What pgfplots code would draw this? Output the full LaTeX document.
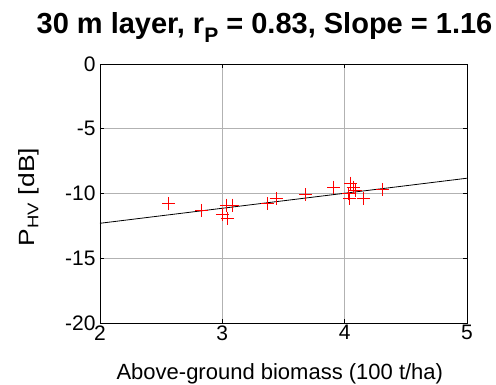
\documentclass[border=0pt]{standalone}
\usepackage{pgfplots}
\pgfplotsset{compat=1.18}
\usepackage{fontspec}
\setmainfont{Liberation Sans}

% HV backscatter of the 30 m layer against above-ground biomass
\pgfplotstableread{
x     y
2.56  -10.8
2.83  -11.3
3.00  -11.6
3.03  -10.9
3.08  -10.9
3.04  -11.9
3.37  -10.8
3.44  -10.4
3.68  -10.1
3.91  -9.5
4.03  -10.0
4.05  -9.2
4.07  -9.5
4.04  -10.4
4.09  -9.8
4.15  -10.4
4.31  -9.7
}\pointsHV

\begin{document}
\begin{tikzpicture}[x=1pt,y=1pt]
\path[use as bounding box] (0,0) rectangle (496,384);
\begin{axis}[
  at={(100pt,61pt)}, anchor=south west,
  scale only axis, width=367pt, height=259pt,
  xmin=2, xmax=5, ymin=-20, ymax=0,
  xtick={2,3,4,5}, ytick={-20,-15,-10,-5,0},
  grid=major,
  major grid style={gray!60, line width=0.7pt},
  tick align=inside, major tick length=4pt,
  tick style={black, line width=0.6pt},
  axis line style={line width=0.8pt},
  ticklabel style={font=\fontsize{21}{24}\selectfont},
  /pgf/number format/assume math mode=true,
  xticklabel style={yshift=1pt},
  yticklabel style={xshift=-1pt},
  xlabel={Above-ground biomass (100 t/ha)},
  ylabel={\scalebox{1.2}[1]{P\textsubscript{HV} [dB]}},
  xlabel style={font=\fontsize{22}{24}\selectfont, at={(axis description cs:0.49,0)}, anchor=base, yshift=-56pt},
  ylabel style={font=\fontsize{22}{24}\selectfont, at={(axis description cs:-0.193,0.486)}, anchor=center},
]
\addplot[black, line width=0.8pt] coordinates {(2,-12.3) (5,-8.82)};
\addplot[only marks, mark=+, mark size=6.5pt, red, line width=1pt] table {\pointsHV};
\end{axis}
\node[font=\bfseries\fontsize{29}{31}\selectfont, anchor=base] at (264.5,351)
  {30 m layer, r\raisebox{-9pt}{\fontsize{21}{21}\selectfont P} = 0.83, Slope = 1.16};
\end{tikzpicture}
\end{document}
